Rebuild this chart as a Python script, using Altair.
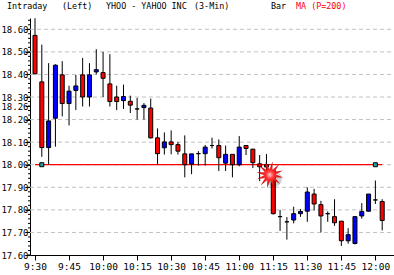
import math
import altair as alt
import pandas as pd

# ---------------- data ----------------
opens = [18.573, 18.367, 18.076, 18.206, 18.398, 18.271, 18.329, 18.398, 18.300, 18.411,
         18.408, 18.358, 18.300, 18.284, 18.281, 18.247, 18.253, 18.251, 18.119, 18.075,
         18.101, 18.089, 18.048, 18.003, 18.049, 18.049, 18.085, 18.085, 18.007, 18.046,
         18.000, 18.085, 18.069, 18.004, 18.000, 17.975, 17.770, 17.747, 17.755, 17.783,
         17.794, 17.870, 17.823, 17.783, 17.770, 17.750, 17.663, 17.651, 17.773, 17.794,
         17.844, 17.837]
highs = [18.649, 18.532, 18.450, 18.445, 18.459, 18.350, 18.398, 18.473, 18.450, 18.512,
         18.500, 18.490, 18.350, 18.355, 18.306, 18.296, 18.273, 18.293, 18.161, 18.143,
         18.152, 18.101, 18.130, 18.048, 18.060, 18.087, 18.120, 18.112, 18.085, 18.046,
         18.127, 18.085, 18.069, 18.043, 18.047, 17.975, 17.800, 17.768, 17.814, 17.804,
         17.900, 17.893, 17.840, 17.793, 17.847, 17.750, 17.719, 17.770, 17.830, 17.870,
         17.930, 17.847]
lows = [18.400, 18.035, 18.000, 18.080, 18.214, 18.174, 18.242, 18.258, 18.258, 18.400,
        18.300, 18.258, 18.242, 18.247, 18.229, 18.200, 18.200, 18.116, 18.000, 18.045,
        18.046, 18.045, 17.944, 17.958, 17.996, 17.996, 18.072, 17.972, 17.972, 17.944,
        17.993, 18.043, 17.985, 17.927, 17.950, 17.780, 17.707, 17.668, 17.740, 17.769,
        17.747, 17.797, 17.700, 17.747, 17.729, 17.640, 17.650, 17.647, 17.761, 17.794,
        17.826, 17.709]
closes = [18.403, 18.076, 18.194, 18.441, 18.271, 18.326, 18.349, 18.300, 18.398, 18.421,
          18.383, 18.280, 18.280, 18.302, 18.264, 18.247, 18.263, 18.119, 18.049, 18.101,
          18.089, 18.060, 18.000, 18.048, 18.049, 18.078, 18.085, 18.031, 18.046, 18.000,
          18.078, 18.072, 18.009, 17.991, 17.990, 17.783, 17.770, 17.747, 17.783, 17.793,
          17.879, 17.826, 17.773, 17.783, 17.743, 17.663, 17.690, 17.770, 17.793, 17.870,
          17.844, 17.753]

times = pd.date_range("2024-01-02 09:30", periods=len(opens), freq="3min")

ma_times = ["2024-01-02T09:30:00", "2024-01-02T12:03:00"]
ma_values = [18.00, 18.00]

marker_times = ["2024-01-02T09:33:00", "2024-01-02T12:00:00"]
marker_values = [18.00, 18.00]

grid_values = [17.7, 17.8, 17.9, 18.0, 18.1, 18.2, 18.3, 18.4, 18.5, 18.6]
y_tick_values = [17.6, 17.7, 17.8, 17.9, 18.0, 18.1, 18.2, 18.26, 18.3, 18.4, 18.5, 18.6]
minor_tick_values = [round(17.6 + 0.02 * k, 2) for k in range(0, 53)]
x_tick_hours = [(9, 30), (9, 45), (10, 0), (10, 15), (10, 30), (10, 45),
                (11, 0), (11, 15), (11, 30), (11, 45), (12, 0)]

star_time = ["2024-01-02T11:13:30"]
star_price = [17.955]

title_parts = ["Intraday", "(Left)", "YHOO - YAHOO INC", "(3-Min)", "Bar", "MA (P=200)"]
title_colors = ["black", "black", "black", "black", "black", "#ff0000"]
title_px = [-23, 32, 76, 164, 241, 266]

# ---------------- frames ----------------
def direction(o, c):
    if c > o:
        return "up"
    if c < o:
        return "down"
    return "flat"

df = pd.DataFrame({
    "time": times.strftime("%Y-%m-%dT%H:%M:%S"),
    "open": opens, "high": highs, "low": lows, "close": closes,
})
df["dir"] = [direction(o, c) for o, c in zip(opens, closes)]

ma_df = pd.DataFrame({"time": ma_times, "ma": ma_values})
mk_df = pd.DataFrame({"time": marker_times, "v": marker_values})
grid_df = pd.DataFrame({"g": grid_values})
minor_df = pd.DataFrame({"m": minor_tick_values})
star_df = pd.DataFrame({"time": star_time, "p": star_price})
title_df = pd.DataFrame({"t": title_parts, "c": title_colors, "px": title_px})

FONT = "DejaVu Sans Mono"
FS = 9

x_dom = [alt.DateTime(year=2024, month=1, date=2, hours=9, minutes=30),
         alt.DateTime(year=2024, month=1, date=2, hours=12, minutes=6)]
x_vals = [alt.DateTime(year=2024, month=1, date=2, hours=h, minutes=m) for h, m in x_tick_hours]
xscale = alt.Scale(domain=x_dom)
yscale = alt.Scale(domain=[17.6, 18.65], zero=False, nice=False)

x_axis = alt.Axis(values=x_vals, format="%-H:%M", tickSize=5, tickColor="black",
                  domainColor="black", labelFont=FONT, labelFontSize=9.5, labelColor="black",
                  labelPadding=1, grid=False, title=None, labelFlush=False)
y_axis = alt.Axis(values=y_tick_values, format=".2f", tickSize=5, tickColor="black",
                  domainColor="black", labelFont=FONT, labelFontSize=FS, labelColor="black",
                  labelPadding=-3, grid=False, title=None, labelOverlap=False,
                  labelFlush=False, labelBound=False)

X = alt.X("time:T", scale=xscale, axis=x_axis)


def Y(field):
    return alt.Y(field, scale=yscale, axis=y_axis)


grid = alt.Chart(grid_df).mark_rule(color="#c0c0c0", strokeDash=[4, 3], strokeWidth=1).encode(
    y=Y("g:Q"),
    x=alt.value(0), x2=alt.value(364),
)

minor = alt.Chart(minor_df).mark_rule(color="black", strokeWidth=1).encode(
    y=Y("m:Q"),
    x=alt.value(-2), x2=alt.value(0),
)

ma = alt.Chart(ma_df).mark_line(color="#ff0000", strokeWidth=1.3).encode(
    x=X,
    y=Y("ma:Q"),
)

wick = alt.Chart(df).mark_rule(color="black", strokeWidth=1).encode(
    x=X, y=Y("low:Q"), y2="high:Q",
)

body = alt.Chart(df).mark_bar(size=4, stroke="black", strokeWidth=1).encode(
    x=X,
    y=Y("open:Q"),
    y2="close:Q",
    color=alt.Color("dir:N", scale=alt.Scale(domain=["up", "down", "flat"],
                                             range=["#0000ff", "#ff0000", "black"]), legend=None),
)

markers = alt.Chart(mk_df).mark_square(size=16, fill="#1aa6a6", stroke="black",
                                       strokeWidth=1, opacity=1, filled=True).encode(
    x=X, y=Y("v:Q"),
)

# star-burst decoration shape
pts = []
n = 12
for k in range(2 * n):
    r = 1.0 if k % 2 == 0 else 0.42
    a = math.pi * k / n + 0.2
    pts.append((r * math.cos(a), r * math.sin(a)))
star_path = "M" + " L".join(f"{px:.3f},{py:.3f}" for px, py in pts) + " Z"

shadow = alt.Chart(star_df).mark_point(shape="circle", filled=True, size=260,
                                       color="#000000", opacity=0.18,
                                       xOffset=4, yOffset=4).encode(
    x=X, y=Y("p:Q"),
)
star = alt.Chart(star_df).mark_point(
    shape=star_path, filled=True, size=750, opacity=1,
    fill=alt.Gradient(gradient="radial",
                      stops=[alt.GradientStop(offset=0, color="#ffd0d0"),
                             alt.GradientStop(offset=0.3, color="#ff3030"),
                             alt.GradientStop(offset=1, color="#c00000")]),
    strokeWidth=0,
).encode(x=X, y=Y("p:Q"))

title = alt.Chart(title_df).mark_text(font=FONT, fontSize=8.4, align="left",
                                      baseline="middle").encode(
    x=alt.X("px:Q", scale=None),
    y=alt.value(-12),
    text="t:N",
    color=alt.Color("c:N", scale=None, legend=None),
)

chart = alt.layer(grid, minor, ma, wick, body, markers, shadow, star, title).properties(
    width=364, height=237,
    padding={"left": 30, "top": 18, "right": 0, "bottom": 20},
    autosize="none",
    background="white",
).configure_view(stroke=None)

chart.save("out.html", embed_options={"renderer": "svg", "actions": False})
